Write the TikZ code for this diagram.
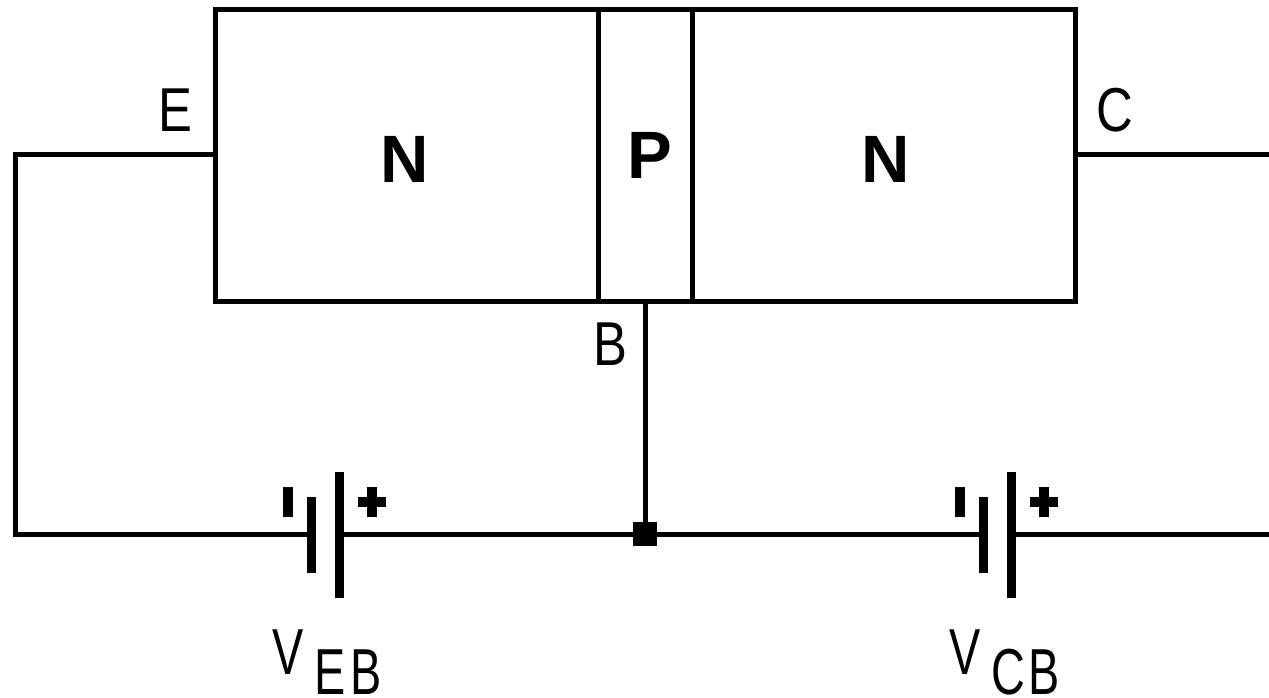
\documentclass[tikz,border=0pt]{standalone}
\usepackage{fontspec}
\setmainfont{Liberation Sans}
\newfontfamily\narrowf[FakeStretch=0.82]{Liberation Sans}
\newfontfamily\vnarrowf[FakeStretch=0.72]{Liberation Sans}
\begin{document}
\begin{tikzpicture}[x=1pt,y=-1pt,
  wire/.style={line width=5pt,line cap=rect,line join=miter},
  region/.style={draw,line width=5pt,rectangle,inner sep=0pt,outer sep=0pt,minimum height=292pt,anchor=north west},
  lab/.style={inner sep=0pt,anchor=base,font=\fontsize{62}{62}\narrowf},
  vlab/.style={inner sep=0pt,anchor=base,font=\fontsize{65}{65}\vnarrowf},
  sublab/.style={inner sep=0pt,anchor=base,font=\fontsize{65}{65}\vnarrowf},
  semi/.style={inner sep=0pt,anchor=base,font=\fontsize{67}{67}\selectfont\bfseries},
  thinplate/.style={line width=9pt},
  thickplate/.style={line width=9pt},
  pole/.style={line width=10pt}]
\useasboundingbox (0,0) rectangle (1269,697);
% semiconductor regions
\node[region,minimum width=383pt] (emitter) at (215,9) {};
\node[region,minimum width=94pt] (base) at (598,9) {};
\node[region,minimum width=383pt] (collector) at (692,9) {};
% free points
\coordinate (ecorner1) at (15,154);
\coordinate (ecorner2) at (15,534);
\coordinate (cend1) at (1269,154);
\coordinate (cend2) at (1269,534);
\coordinate (bat1n) at (311,534);
\coordinate (bat1p) at (339,534);
\coordinate (bat2n) at (983,534);
\coordinate (bat2p) at (1011,534);
\node[fill=black,draw=none,rectangle,minimum size=24pt,inner sep=0pt] (junction) at (645,534) {};
% wires
\draw[wire] (emitter.north west |- 0,154) -- (ecorner1) -- (ecorner2) -- (bat1n);
\draw[wire] (bat1p) -- (junction);
\draw[wire] (junction) -- (bat2n);
\draw[wire] (bat2p) -- (cend2);
\draw[wire] (collector.north east |- 0,154) -- (cend1);
\draw[wire] (base.south) -- (junction);
% battery 1
\draw[thinplate] (311,497) -- (311,573);
\draw[thickplate] (339,472) -- (339,598);
\draw[pole] (288,487) -- (288,517);
\draw[pole] (372,487) -- (372,517);
\draw[pole] (358,502) -- (386,502);
% battery 2
\draw[thinplate] (983,497) -- (983,573);
\draw[thickplate] (1011,472) -- (1011,598);
\draw[pole] (960,487) -- (960,517);
\draw[pole] (1044,487) -- (1044,517);
\draw[pole] (1030,502) -- (1058,502);
% labels
\node[semi] (ln1) at (404.5,182) {N};
\node[semi] (lp) at (650,178) {P};
\node[semi] (ln2) at (885.5,182) {N};
\node[lab] (le) at (175.5,131) {E};
\node[lab] (lc) at (1115,131) {C};
\node[lab] (lb) at (610,365) {B};
\node[vlab] (lv1) at (288,674) {V};
\node[sublab] (leb) at (348.5,694) {E\kern5pt B};
\node[vlab] (lv2) at (965,674) {V};
\node[sublab] (lcb) at (1025.5,694) {C\kern3pt B};
\end{tikzpicture}
\end{document}
